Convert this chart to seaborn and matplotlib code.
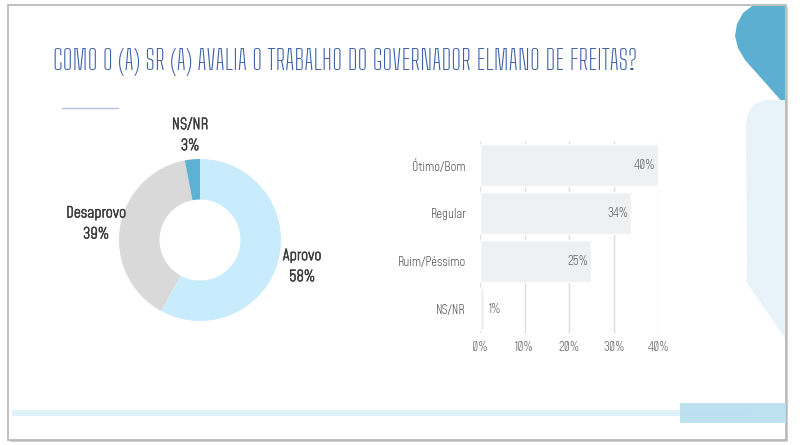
import matplotlib.pyplot as plt
from matplotlib.patches import Rectangle, Polygon
import matplotlib.patheffects as pe
import seaborn as sns
import pandas as pd
import numpy as np

# Data
pie_labels = ["Aprovo", "Desaprovo", "NS/NR"]
pie_values = [58, 39, 3]
pie_colors = ["#c8ecfb", "#d9d9d9", "#5db1d2"]

bar_categories = ["Ótimo/Bom", "Regular", "Ruim/Péssimo", "NS/NR"]
bar_values = [40, 34, 25, 1]
bar_ticks = [0, 10, 20, 30, 40]

title = "COMO O (A) SR (A) AVALIA O TRABALHO DO GOVERNADOR ELMANO DE FREITAS?"

sns.set_style("white")
plt.rcParams["font.family"] = ["Mohave", "Liberation Sans", "DejaVu Sans"]

W, H = 800, 445
fig = plt.figure(figsize=(8, 4.45), dpi=100)
fig.patch.set_facecolor("white")

# background / slide decorations in pixel coordinates
bg = fig.add_axes([0, 0, 1, 1])
bg.set_xlim(0, W)
bg.set_ylim(H, 0)
bg.axis("off")
bg.add_patch(Rectangle((10, 7), 778, 435, facecolor="#cfcfcf", edgecolor="none"))
bg.add_patch(Rectangle((8, 5), 778, 435, facecolor="white", edgecolor="#b5b5b5", lw=1.2))
# dark top-right shape
bg.add_patch(Polygon([(752, 6), (785, 6), (785, 105), (745, 60), (738, 48),
                      (735, 36), (737, 24), (743, 13)],
                     facecolor="#5dafd1", edgecolor="none"))
# light right shape
bg.add_patch(Polygon([(785, 100), (785, 338), (747, 283), (746, 125), (748, 113),
                      (755, 104), (765, 100)],
                     facecolor="#e7f3f8", edgecolor="none"))
# bottom bands
bg.add_patch(Rectangle((12, 410), 737, 6, facecolor="#dff1f8", edgecolor="none"))
bg.add_patch(Rectangle((680, 403), 106, 20, facecolor="#bbe0ef", edgecolor="none", alpha=0.95))
# short line under title
bg.plot([62, 118], [108, 108], color="#b7c3dc", lw=1)

bg.text(53, 62, title, fontsize=20, color="#3b5ea8", va="center", ha="left",
        family=["Big Shoulders Text", "Mohave", "DejaVu Sans"])

# donut
cx, cy, r = 200, 240, 81
ax_pie = fig.add_axes([(cx - r) / W, (H - cy - r) / H, 2 * r / W, 2 * r / H])
wedges, _ = ax_pie.pie(pie_values, colors=pie_colors, startangle=90, counterclock=False,
                       radius=1, wedgeprops=dict(width=0.5, edgecolor="none"))
ax_pie.set_xlim(-1, 1)
ax_pie.set_ylim(-1, 1)
ax_pie.set_aspect("equal")
bold = [pe.withStroke(linewidth=0.4, foreground="#3a3a3a")]
for w, lab, val in zip(wedges, pie_labels, pie_values):
    ang = np.deg2rad((w.theta1 + w.theta2) / 2)
    ax_pie.text(1.3 * np.cos(ang), 1.3 * np.sin(ang), f"{lab}\n{val}%",
                ha="center", va="center", fontsize=11,
                color="#3a3a3a", linespacing=1.5, clip_on=False, path_effects=bold)

# bar chart
df = pd.DataFrame({"categoria": bar_categories, "valor": bar_values})
ax_bar = fig.add_axes([480 / W, (H - 333) / H, 178 / W, 192 / H])
sns.barplot(data=df, x="valor", y="categoria", orient="h", color="#eef0f1",
            width=0.88, saturation=1, ax=ax_bar)
ax_bar.set_xlim(0, 40)
ax_bar.set_ylim(3.5, -0.5)
ax_bar.set_xticks(bar_ticks)
ax_bar.set_xticklabels([f"{t}%" for t in bar_ticks])
ax_bar.set_xlabel("")
ax_bar.set_ylabel("")
ax_bar.grid(axis="x", color="#dcdcdc", lw=1)
ax_bar.set_axisbelow(True)
for s in ax_bar.spines.values():
    s.set_visible(False)
ax_bar.tick_params(axis="y", length=0, pad=10, labelsize=9, labelcolor="#555555")
ax_bar.tick_params(axis="x", length=0, pad=6, labelsize=9, labelcolor="#666666")
for ticklab in ax_bar.get_xticklabels():
    ticklab.set_clip_on(False)
for i, v in enumerate(bar_values):
    if v >= 5:
        ax_bar.text(v - 0.6, i, f"{v}%", ha="right", va="center", fontsize=9, color="#666666")
    else:
        ax_bar.text(v + 0.9, i, f"{v}%", ha="left", va="center", fontsize=9, color="#666666")

fig.savefig("out.png", dpi=100)
